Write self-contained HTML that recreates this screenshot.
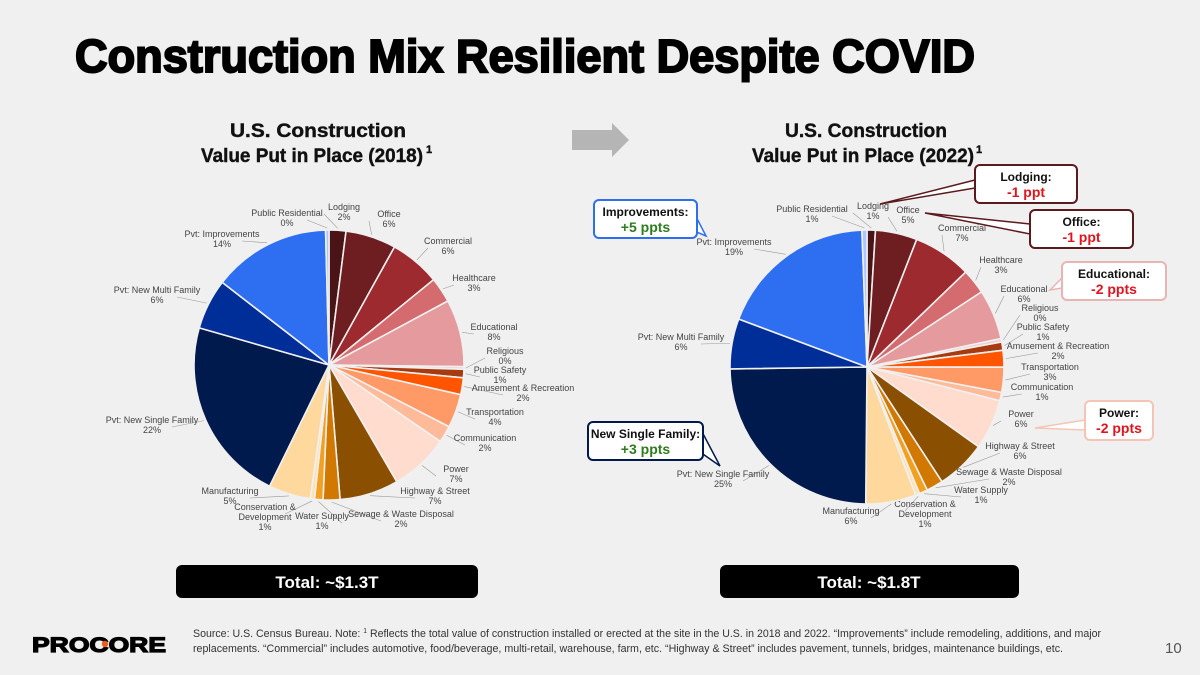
<!DOCTYPE html>
<html><head><meta charset="utf-8"><style>
html,body{margin:0;padding:0;background:#f0f0f0;}
svg{display:block;font-family:"Liberation Sans",sans-serif;}
.lbl{font-size:9px;fill:#444;}
</style></head><body>
<svg id="s" width="1200" height="675" viewBox="0 0 1200 675">
<rect width="1200" height="675" fill="#f0f0f0"/>
<text x="75" y="72" font-size="46" font-weight="900" fill="#000" textLength="900" lengthAdjust="spacingAndGlyphs" stroke="#000" stroke-width="2">Construction Mix Resilient Despite COVID</text>
<g font-weight="700" font-size="19" fill="#111" text-anchor="middle" stroke="#111" stroke-width="0.4">
<text x="318" y="137" textLength="176" lengthAdjust="spacingAndGlyphs">U.S. Construction</text>
<text x="312" y="162" textLength="222" lengthAdjust="spacingAndGlyphs">Value Put in Place (2018)</text>
<text x="429" y="153" font-size="11">1</text>
</g>
<g font-weight="700" font-size="19" fill="#111" text-anchor="middle" stroke="#111" stroke-width="0.4">
<text x="866" y="137" textLength="162" lengthAdjust="spacingAndGlyphs">U.S. Construction</text>
<text x="863" y="162" textLength="222" lengthAdjust="spacingAndGlyphs">Value Put in Place (2022)</text>
<text x="979" y="153" font-size="11">1</text>
</g>
<polygon points="572,130 612,130 612,123 629,140 612,157 612,150 572,150" fill="#b5b5b5"/>
<g id="pies"></g>
<g id="callouts"></g>
<rect x="176" y="565" width="302" height="33" rx="6" fill="#000"/>
<text x="327" y="588" font-size="17" font-weight="700" fill="#fff" text-anchor="middle">Total: ~$1.3T</text>
<rect x="720" y="565" width="299" height="33" rx="6" fill="#000"/>
<text x="869" y="588" font-size="17" font-weight="700" fill="#fff" text-anchor="middle">Total: ~$1.8T</text>
<g>
<text x="32" y="652" font-size="21" font-weight="900" fill="#000" textLength="134" lengthAdjust="spacingAndGlyphs" stroke="#000" stroke-width="1.2">PROCORE</text>
<circle cx="105" cy="644" r="3.2" fill="#f05a1a"/>
</g>
<g font-size="11" fill="#333">
<text x="193" y="637" textLength="908" lengthAdjust="spacingAndGlyphs">Source: U.S. Census Bureau. Note: <tspan font-size="7" dy="-4">1</tspan><tspan dy="4"> Reflects the total value of construction installed or erected at the site in the U.S. in 2018 and 2022. “Improvements” include remodeling, additions, and major</tspan></text>
<text x="193" y="652" textLength="870" lengthAdjust="spacingAndGlyphs">replacements. “Commercial” includes automotive, food/beverage, multi-retail, warehouse, farm, etc. “Highway &amp; Street” includes pavement, tunnels, bridges, maintenance buildings, etc.</text>
</g>
<text x="1165" y="653" font-size="15" fill="#555">10</text>
</svg>
<script>
const categories=["Lodging","Office","Commercial","Healthcare","Educational","Religious","Public Safety","Amusement & Recreation","Transportation","Communication","Power","Highway & Street","Sewage & Waste Disposal","Water Supply","Conservation & Development","Manufacturing","Pvt: New Single Family","Pvt: New Multi Family","Pvt: Improvements","Public Residential"];
const values2018=[2,6,6,3,8,0.3,1,2,4,2,7,7,2,1,0.5,5,22,6,14,0.4];
const values2022=[1,5,7,3,6,0.4,1,2,3,1,6,6,2,1,0.5,6,25,6,19,0.6];
const colors=["#4a1316","#6e1d20","#9c2a2f","#d46b6e","#e59b9d","#f3cccc","#a83a10","#ff5500","#ff9a66","#ffbb99","#ffdccd","#8a5000","#d07800","#f3a020","#ffe2b5","#ffd89e","#001a4d","#002e99","#2e6ff2","#a8c6ff"];
// layout only: label [x, y] per category
const labelPos2018=[[344,210],[389,217],[448,244],[474,281],[494,330],[505,354],[500,373],[523,391],[495,415],[485,441],[456,472],[435,494],[401,517],[322,519],[265,510],[230,494],[152,423],[157,293],[222,237],[287,216]];
const labelPos2022=[[873,209],[908,213],[962,231],[1001,263],[1024,292],[1040,311],[1043,330],[1058,349],[1050,370],[1042,390],[1021,417],[1020,449],[1009,475],[981,493],[925,507],[851,514],[723,477],[681,340],[734,245],[812,212]];
const NS="http://www.w3.org/2000/svg";
function mk(tag,attrs,parent){const e=document.createElementNS(NS,tag);for(const k in attrs)e.setAttribute(k,attrs[k]);parent.appendChild(e);return e;}
function angleScale(vals){const t=vals.reduce((a,b)=>a+b,0);return v=>v/t*Math.PI*2;}
function drawPie(vals,cx,cy,r,labels,year){
  const g=mk('g',{},document.getElementById('pies'));
  
  
  const sc=angleScale(vals);let a=0;
  vals.forEach((v,i)=>{
    const a0=a,a1=a+sc(v);a=a1;
    const x0=cx+r*Math.sin(a0),y0=cy-r*Math.cos(a0),x1=cx+r*Math.sin(a1),y1=cy-r*Math.cos(a1);
    const large=(a1-a0)>Math.PI?1:0;
    const p=mk('path',{d:`M${cx},${cy}L${x0},${y0}A${r},${r} 0 ${large} 1 ${x1},${y1}Z`,fill:colors[i],stroke:'#f0f0f0','stroke-width':'1.6'},g);
    
    
    const am=(a0+a1)/2,[lx,ly]=labels[i];
    const ex=cx+(r+2)*Math.sin(am),ey=cy-(r+2)*Math.cos(am);
    const ln=mk('line',{x1:ex,y1:ey,x2:lx+(lx<cx?20:-20),y2:ly+4,stroke:'#999','stroke-width':'0.6'},g);
    
    
    const t=mk('text',{x:lx,y:ly,'text-anchor':'middle',class:'lbl'},g);
    
    
    let name=categories[i];
    let lines=name==="Conservation & Development"?["Conservation &","Development"]:[name];
    lines.forEach((s,k)=>{const ts=mk('tspan',{x:lx,dy:k?10:0},t);ts.textContent=s;});
    const ts=mk('tspan',{x:lx,dy:10},t);ts.textContent=Math.round(vals[i])+'%';
  });
}
drawPie(values2018,329,365,135,labelPos2018,'2018');
drawPie(values2022,867,367,137,labelPos2022,'2022');
function callout(x,y,w,h,border,title,val,valColor,tail,name){
  const g=mk('g',{},document.getElementById('callouts'));
  
  
  if(tail)mk('polygon',{points:tail,fill:'#fff',stroke:border,'stroke-width':'1.5'},g);
  mk('rect',{x,y,width:w,height:h,rx:5,fill:'#fff',stroke:border,'stroke-width':'2'},g);
  const t1=mk('text',{x:x+w/2,y:y+16,'text-anchor':'middle','font-size':'12','font-weight':'700',fill:'#111'},g);t1.textContent=title;
  const t2=mk('text',{x:x+w/2,y:y+32,'text-anchor':'middle','font-size':'14','font-weight':'700',fill:valColor},g);t2.textContent=val;
}
callout(975,165,102,38,'#5a1a1e','Lodging:','-1 ppt','#e0141e','975,180 880,204 975,188','callout-lodging');
callout(1030,210,103,38,'#5a1a1e','Office:','-1 ppt','#e0141e','1030,224 925,213 1030,234','callout-office');
callout(1062,262,104,38,'#e8b4b4','Educational:','-2 ppts','#e0141e','1062,278 1050,290 1062,288','callout-educational');
callout(1085,401,68,39,'#f5c4b4','Power:','-2 ppts','#e0141e','1085,420 1035,428 1085,430','callout-power');
callout(594,200,103,38,'#2e6ff2','Improvements:','+5 ppts','#2e7d1e','680,225 706,236 690,205','callout-improvements');
callout(588,422,115,38,'#001a4d','New Single Family:','+3 ppts','#2e7d1e','690,445 720,466 700,428','callout-new-single-family');
</script>
</body></html>
